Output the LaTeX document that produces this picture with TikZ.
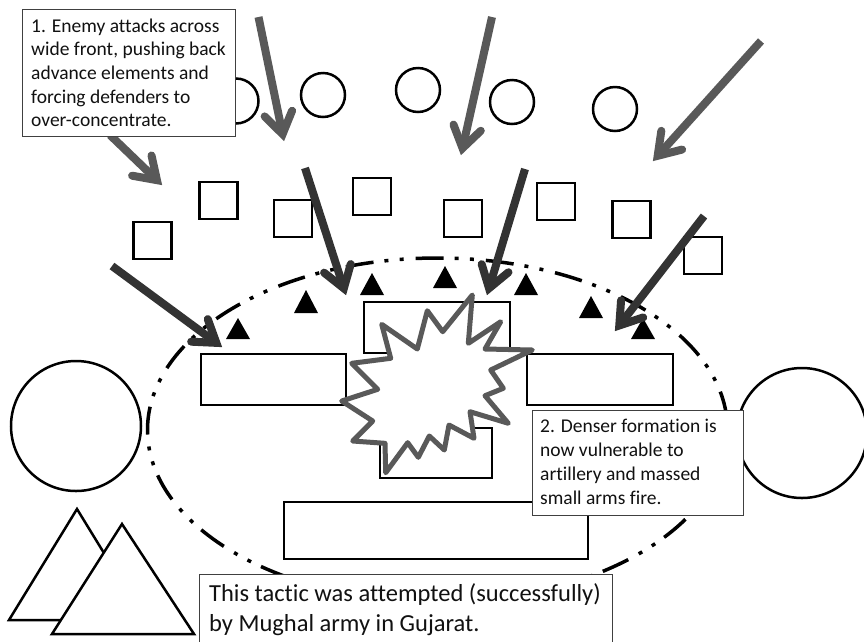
\documentclass[tikz,border=0pt]{standalone}
\usepackage{fontspec}
\setmainfont{Carlito}[Ligatures=CommonOff]
\usetikzlibrary{calc,shapes.geometric}
\definecolor{lightarrow}{HTML}{595959}
\definecolor{darkarrow}{HTML}{333333}
\definecolor{ink}{HTML}{111111}
\tikzset{
  shapeline/.style={draw=black,line width=2.5pt,fill=white},
  sq/.style={shapeline,rectangle,minimum width=38pt,minimum height=37pt,inner sep=0pt,outer sep=0pt},
  circ/.style={shapeline,circle,minimum size=44pt,inner sep=0pt,outer sep=0pt},
  bigcirc/.style={shapeline,circle,minimum size=130pt,inner sep=0pt,outer sep=0pt},
  barbline/.style={line width=8pt,line cap=round,line join=miter,miter limit=10},
  shaftline/.style={line width=8pt,line cap=butt},
  blacktri/.style={fill=black,draw=none},
  textbox/.style={draw=black!75,line width=1pt,fill=white,text=ink,rectangle,anchor=north west,align=left,inner sep=0pt,outer sep=0pt},
  star/.style={draw=lightarrow,line width=5pt,fill=white,line join=round},
  front/.style={draw=black,line width=3.5pt,dash pattern=on 28pt off 11pt on 4pt off 11.3pt on 4pt off 12pt,dash phase=57.5pt},
}
\newcommand{\campaignarrow}[4]{%
  \coordinate (#1s) at (#2);
  \coordinate (#1e) at (#3);
  \coordinate (#1a) at ($(#1e)!7pt!(#1s)$);
  \coordinate (#1b) at ($(#1e)!28pt!(#1s)$);
  \coordinate (#1l) at ($(#1b)!14pt!90:(#1e)$);
  \coordinate (#1r) at ($(#1b)!14pt!-90:(#1e)$);
  \draw[shaftline,draw=#4] (#1s) -- (#1a);
  \draw[barbline,draw=#4] (#1l) -- (#1a) -- (#1r);
}
\newcommand{\blacktriangle}[4]{\fill[blacktri] (#1,#2) -- (#3,#4) -- ({2*#1-#3},#4) -- cycle;}
\begin{document}
\begin{tikzpicture}[x=1pt,y=-1pt]
\useasboundingbox (0,0) rectangle (864,641);
% ellipse, started at its lowest point, which the bottom text box hides
\draw[front] (437.5,602) arc [start angle=90,end angle=450,x radius=290,y radius=172];
% circles
\node[circ,minimum size=45pt] (c1) at (236,101) {};
\node[circ] (c2) at (323,95) {};
\node[circ] (c3) at (418,90) {};
\node[circ] (c4) at (512,102) {};
\node[circ] (c5) at (615,109) {};
\node[bigcirc] (bl) at (76,426) {};
\node[bigcirc] (br) at (802,433) {};
% squares
\node[sq] (s1) at (152.5,240.5) {};
\node[sq] (s2) at (218.5,200.5) {};
\node[sq] (s3) at (293,218.5) {};
\node[sq] (s4) at (372,196.5) {};
\node[sq] (s5) at (463,218.5) {};
\node[sq] (s6) at (556,201.5) {};
\node[sq] (s7) at (631.5,219.5) {};
\node[sq] (s8) at (703,255.5) {};
% big rectangles
\draw[shapeline] (201,354) rectangle (346,405);
\draw[shapeline] (364,302) rectangle (510,353);
\draw[shapeline] (527,354) rectangle (673,405);
\draw[shapeline] (380,428) rectangle (492,478);
\draw[shapeline] (284,502) rectangle (588,559);
% large triangles
\draw[shapeline,line join=miter] (77,509) -- (145,620) -- (9,620) -- cycle;
\draw[shapeline,line join=miter] (122,524) -- (194,634) -- (52,634) -- cycle;
% small black triangles
\blacktriangle{238}{318}{250}{339}
\blacktriangle{306}{290}{318}{313}
\blacktriangle{372}{273}{384}{295}
\blacktriangle{445}{266}{457}{288}
\blacktriangle{526}{273}{538}{295}
\blacktriangle{591}{296}{603}{318}
\blacktriangle{643}{318}{655}{339}
% star
\draw[star] (472.3,295) -- (468.3,343.3) -- (500.7,321.7) -- (485,349) -- (532.3,350) -- (490.7,370) -- (503.3,388.3) -- (485,395.7) -- (508.3,423.3) -- (470,411.7) -- (474,438.3) -- (449,425) -- (444.3,450) -- (429.3,436) -- (418.3,457.3) -- (407.7,442.7) -- (385.7,472.7) -- (385,443.3) -- (352.7,441) -- (372.7,421) -- (341.7,401) -- (377.7,389.3) -- (351.7,363.3) -- (390.7,358.3) -- (381.7,324.3) -- (417.3,349) -- (427.3,310.7) -- (442.7,331.7) -- cycle;
% arrows
\campaignarrow{a}{258.5,17}{284,141}{lightarrow}
\campaignarrow{b}{492,17}{461,155}{lightarrow}
\campaignarrow{c}{761,41}{653,161}{lightarrow}
\campaignarrow{d}{110,135}{162,185}{lightarrow}
\campaignarrow{e}{112,266}{222,347}{darkarrow}
\campaignarrow{f}{305,168}{346,295}{darkarrow}
\campaignarrow{g}{525,169}{487,295}{darkarrow}
\campaignarrow{h}{704,216}{615,331}{darkarrow}
% text boxes
\node[textbox,minimum width=213pt,minimum height=127pt] (t1) at (22,9) {};
\node[anchor=north west,inner sep=0pt,text=ink,align=left,font=\fontsize{19.5}{23.6}\selectfont] (t1t) at (31,18.5) {1. Enemy attacks across\\wide front, pushing back\\advance elements and\\forcing defenders to\\over-concentrate.};
\node[textbox,minimum width=211pt,minimum height=105pt] (t2) at (532,410) {};
\node[anchor=north west,inner sep=0pt,text=ink,align=left,font=\fontsize{19.5}{24}\selectfont] (t2t) at (540,419) {2. Denser formation is\\now vulnerable to\\artillery and massed\\small arms fire.};
\node[textbox,minimum width=413pt,minimum height=75pt] (t3) at (199,574) {};
\node[anchor=north west,inner sep=0pt,text=ink,align=left,font=\fontsize{24.5}{30}\selectfont] (t3t) at (209,583) {This tactic was attempted (successfully)\\by Mughal army in Gujarat.};
\end{tikzpicture}
\end{document}
